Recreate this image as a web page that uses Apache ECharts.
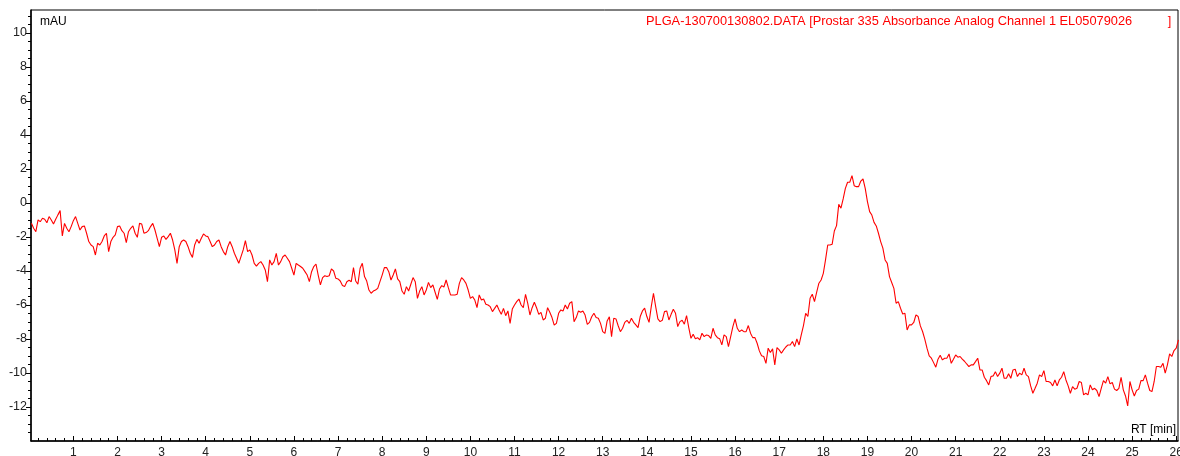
<!DOCTYPE html>
<html>
<head>
<meta charset="utf-8">
<script src="https://cdn.jsdelivr.net/npm/echarts@6/dist/echarts.min.js"></script>
<style>
html,body{margin:0;padding:0;background:#fff;}
#chart{width:1180px;height:456px;}
</style>
</head>
<body>
<div id="chart"></div>
<script>
// ---- data (retention time in min, absorbance in mAU), sampled every 0.05 min ----
const STEP = 0.05;

const seg1Start = 0.05;
const seg1Values = [
  -1.19,-1.49,-1.69,-1.0,-1.1,-0.9,-0.96,-1.16,-0.8,-1.0,
  -1.24,-0.96,-0.7,-0.45,-1.94,-1.2,-1.49,-1.69,-1.39,-1.04,
  -0.8,-1.2,-1.59,-1.39,-1.35,-1.78,-2.27,-2.47,-2.57,-3.06,
  -2.37,-2.47,-2.27,-1.94,-1.78,-2.86,-2.27,-2.02,-1.88,-1.39,
  -1.35,-1.63,-1.78,-2.33,-1.69,-1.49,-1.35,-1.78,-2.02,-1.2,
  -1.24,-1.78,-1.74,-1.63,-1.39,-1.2,-1.59,-2.08,-2.57,-2.02,
  -1.94,-2.14,-1.98,-1.78,-2.18,-2.76,-3.55,-2.57,-2.27,-2.18,
  -2.27,-2.57,-2.96,-3.2,-2.47,-2.14,-2.37,-2.08,-1.82,-1.94,
  -1.98,-2.27,-2.57,-2.47,-2.27,-2.18,-2.57,-2.86,-3.06,-2.57,
  -2.27,-2.57,-2.96,-3.25,-3.55,-3.16,-2.76,-2.22,-2.86,-2.76,
  -3.06,-3.55,-3.71,-3.55,-3.45,-3.65,-3.94,-4.63,-3.35,-3.65,
  -3.45,-2.96,-3.65,-3.45,-3.16,-3.06,-3.25,-3.45,-3.84,-4.24,
  -3.55,-3.65,-3.74,-3.84,-4.04,-4.24,-4.63,-4.04,-3.74,-3.59,
  -4.24,-4.82
];

const seg2Start = 6.65;
const seg2Values = [
  -4.39,-4.28,-4.33,-4.28,-3.88,-4.0,-4.43,-4.47,
  -4.59,-4.86,-4.92,-4.63,-4.55,-4.63,-3.80,-4.59,-4.78,-3.84,
  -3.55,-4.33,-4.59,-5.12,-5.31,-5.18,-5.12,-5.02,-4.63,-4.24,
  -3.80,-3.80,-4.04,-4.53,-4.24,-3.88,-4.47,-4.63,-5.18,-5.37,
  -4.92,-5.18,-4.78,-4.39,-4.63,-5.61,-5.18,-4.92,-5.41,-5.12,
  -4.67,-4.98,-4.82,-5.25,-5.67,-5.06,-4.86,-4.94,-4.53,-4.98,
  -5.41,-5.41,-5.41,-5.37,-4.73,-4.39,-4.53,-4.73,-5.12,-5.61,
  -5.51,-5.71,-6.16,-5.41,-5.71,-5.65,-5.96,-6.0,-6.10,-6.39,
  -6.20,-6.0,-6.29,-6.55,-6.20,-6.63,-6.35,-7.08,-6.24,-6.0,
  -5.80,-5.65,-6.0,-6.16,-5.37,-5.90,-6.59,-6.16,-5.84,-6.16,
  -6.55,-6.43,-6.88,-6.78,-6.16,-6.43,-6.74,-7.18,-7.08,-6.49,
  -6.29,-6.35,-6.0,-6.24,-5.90,-5.80,-6.98,-6.74,-6.35,-6.43,
  -6.35,-6.59,-7.14,-7.02,-6.69,-6.49,-6.74,-6.78,-7.08,-7.57,
  -7.67,-6.94,-6.69,-7.86,-6.78,-6.82,-7.22,-7.57
];

const seg3Start = 13.45;
const seg3Values = [
  -7.37,-7.02,-6.90,-7.08,-6.78,-7.02,-7.17,-7.33,-6.68,-6.35,-6.19,-6.68,
  -7.02,-6.10,-5.31,-6.10,-6.82,-6.98,-6.90,-6.39,-6.35,-6.88,
  -6.55,-6.25,-6.49,-7.27,-6.98,-6.90,-7.13,-6.62,-7.33,-7.96,
  -7.72,-7.98,-7.92,-8.05,-7.66,-7.86,-7.76,-7.80,-7.96,-7.37,
  -7.76,-7.92,-7.98,-8.35,-7.76,-7.86,-8.45,-7.86,-7.27,-6.82,
  -7.37,-7.57,-7.47,-7.57,-7.57,-7.21,-7.66,-7.92,-7.92,-8.25,
  -8.70,-8.98,-9.03,-9.43,-8.54,-8.80,-8.58,-9.53,-8.51,-8.64,
  -8.84,-8.64,-8.47,-8.35,-8.35,-8.15,-8.45,-8.00,-8.35,-7.76,
  -7.21,-6.49,-6.68,-5.61,-5.37,-5.80,-5.25,-4.72,-4.53,-4.14,
  -3.35,-2.47,-2.47,-2.43,-1.65,-1.33,-0.08,-0.31,0.24,0.86,
  1.22,1.22,1.61,1.02,0.96,0.96,1.29,1.41,0.86,0.08,
  -0.51,-0.71,-1.14,-1.35,-1.78,-2.27
];

const seg4Start = 19.35;
const seg4Values = [
  -2.66,-3.35,-3.55,-4.33,-4.68,-5.02,-5.90,-5.80,-6.19,-6.53,-6.49,-7.47,-7.17,-7.17,
  -7.03,-6.58,-6.68,-7.23,-7.56,-8.01,-8.54,-8.99,-9.13,-9.39,
  -9.66,-9.19,-8.96,-9.23,-9.13,-9.13,-8.88,-9.43,-9.19,-8.94,
  -9.07,-9.03,-9.19,-9.31,-9.47,-9.62,-9.52,-9.52,-9.33,-9.13,
  -9.82,-9.82,-10.25,-10.45,-10.70,-10.21,-10.17,-9.92,-10.21,-10.01,
  -9.72,-10.31,-10.31,-10.05,-10.31,-9.82,-9.78,-10.21,-10.01,-10.11,
  -9.72,-10.11,-10.21,-10.76,-11.19,-10.90,-10.60,-10.11,-10.21,-9.86,
  -10.50,-10.50,-10.56,-10.76,-10.41,-10.76,-10.41,-10.25,-9.92,-10.41,
  -10.76,-11.19,-10.80,-10.95,-10.90,-10.50,-10.56,-11.29,-11.19,-11.29,
  -10.70,-10.99,-10.90,-11.03,-11.39,-10.90,-10.45,-10.60,-10.21,-10.64,
  -10.56,-10.95,-11.03,-10.90,-10.25,-10.99,-11.35,-11.94,-10.50,-10.99,
  -11.35,-11.03,-10.95,-10.45,-10.45,-10.11,-10.60,-11.03,-11.09,-10.50,
  -9.62,-9.62,-9.66,-9.43,-10.01,-9.52,-8.88,-9.03,-8.68,-8.54,-8.05
];

// ---- axis ticks / labels ----
const xTickLabels = [1,2,3,4,5,6,7,8,9,10,11,12,13,14,15,16,17,18,19,20,21,22,23,24,25,26];
const yTickLabels = [-12,-10,-8,-6,-4,-2,0,2,4,6,8,10];
const X_MIN = 0.04, X_MAX = 26.04;
const Y_MIN = -14, Y_MAX = 11.35;

const titleText = 'PLGA-130700130802.DATA [Prostar 335 Absorbance Analog Channel 1 EL05079026          ]';
const yUnit = 'mAU';
const xUnit = 'RT [min]';

// minor tick positions (axis decoration)
const xMinor = [];
for (let i = 1; i * 0.2 < X_MAX; i++) { const v = +(i * 0.2).toFixed(2); if (Math.abs(v - Math.round(v)) > 1e-6) xMinor.push(v); }
const yMinor = [];
for (let v = -13.5; v <= 11; v += 0.5) { if (Math.abs(v / 2 - Math.round(v / 2)) > 1e-6) yMinor.push(v); }

const segments = [
  {start: seg1Start, values: seg1Values},
  {start: seg2Start, values: seg2Values},
  {start: seg3Start, values: seg3Values},
  {start: seg4Start, values: seg4Values}
];
const lineData = [];
segments.forEach(s => s.values.forEach((v, i) => lineData.push([+(s.start + i * STEP).toFixed(2), v])));

const FONT = 'Liberation Sans, Arial, sans-serif';
const chart = echarts.init(document.getElementById('chart'), null, {renderer: 'canvas'});
chart.setOption({
  animation: false,
  backgroundColor: '#ffffff',
  grid: {left: 31, right: 2, top: 10, bottom: 15, show: true, borderColor: '#000', borderWidth: 1,
         backgroundColor: 'transparent', containLabel: false, outerBoundsMode: 'none'},
  xAxis: [{
    type: 'value', min: X_MIN, max: X_MAX, position: 'bottom',
    axisLine: {show: true, onZero: false, lineStyle: {color: '#000', width: 1.5}},
    axisTick: {show: true, inside: true, length: 5, customValues: xTickLabels, lineStyle: {color: '#000', width: 1}},
    axisLabel: {show: true, customValues: xTickLabels, margin: 6, color: '#222', fontSize: 12, fontFamily: FONT,
                showMinLabel: true, showMaxLabel: true, hideOverlap: false},
    splitLine: {show: false}, minorTick: {show: false}
  }, {
    type: 'value', min: X_MIN, max: X_MAX, position: 'bottom',
    axisLine: {show: false, onZero: false},
    axisTick: {show: true, inside: true, length: 3, customValues: xMinor, lineStyle: {color: '#000', width: 1}},
    axisLabel: {show: false}, splitLine: {show: false}
  }],
  yAxis: [{
    type: 'value', min: Y_MIN, max: Y_MAX, position: 'left',
    axisLine: {show: true, onZero: false, lineStyle: {color: '#000', width: 1.5}},
    axisTick: {show: true, inside: false, length: 5, customValues: yTickLabels, lineStyle: {color: '#000', width: 1}},
    axisLabel: {show: true, customValues: yTickLabels, margin: 4, color: '#222', fontSize: 12.5, fontFamily: FONT,
                hideOverlap: false},
    splitLine: {show: false}
  }, {
    type: 'value', min: Y_MIN, max: Y_MAX, position: 'left',
    axisLine: {show: false, onZero: false},
    axisTick: {show: true, inside: false, length: 3, customValues: yMinor, lineStyle: {color: '#000', width: 1}},
    axisLabel: {show: false}, splitLine: {show: false}
  }],
  graphic: [
    {type: 'text', left: 40, top: 16, style: {text: yUnit, fill: '#000', font: '12px ' + FONT}},
    {type: 'text', right: 4, top: 424, style: {text: xUnit, fill: '#000', font: '12px ' + FONT}},
    {type: 'text', left: 646, top: 15, style: {text: titleText, fill: '#ff0000', font: '12.8px ' + FONT}}
  ],
  series: [{
    type: 'line', xAxisIndex: 0, yAxisIndex: 0, data: lineData,
    showSymbol: false, symbol: 'none', smooth: false, clip: true,
    lineStyle: {color: '#ff0000', width: 1.1}
  }]
});
</script>
</body>
</html>
